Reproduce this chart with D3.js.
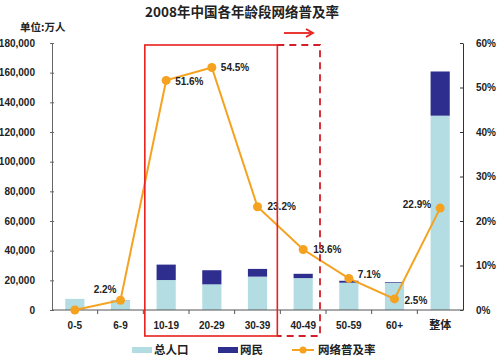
<!DOCTYPE html>
<html><head><meta charset="utf-8">
<script src="https://cdn.jsdelivr.net/npm/d3@7"></script>
<style>
body{margin:0;background:#fff;}
svg{display:block;}
text{font-family:"Liberation Sans",Arial,"Noto Sans CJK SC",sans-serif;font-weight:bold;fill:#222;}
.cjk{font-family:"Noto Sans CJK SC","Liberation Sans",sans-serif;font-weight:bold;}
</style></head>
<body><svg id="c" width="500" height="360"></svg>
<script>
const categories = ["0-5","6-9","10-19","20-29","30-39","40-49","50-59","60+","整体"];
const totalPopulation = [7500, 6300, 20200, 17300, 22500, 21500, 18400, 18300, 131000];
const netizens = [0, 140, 10400, 9500, 5200, 2900, 1300, 460, 29800];
const rates = [0, 2.2, 51.6, 54.5, 23.2, 13.6, 7.1, 2.5, 22.9];
const rateLabels = ["", "2.2%", "51.6%", "54.5%", "23.2%", "13.6%", "7.1%", "2.5%", "22.9%"];
const leftTicks = [0,20000,40000,60000,80000,100000,120000,140000,160000,180000];
const rightTicks = [0,10,20,30,40,50,60];
const legendLabels = ["总人口","网民","网络普及率"];
const title = "2008年中国各年龄段网络普及率";
const unitLabel = "单位:万人";

const C_LIGHT = "#b3dde3", C_DARK = "#2e2e8f", C_LINE = "#f4a21f";
const svg = d3.select("#c");
const L = 52, R = 463, T = 43, B = 310;

const x = d3.scaleBand().domain(categories).range([L, R]).paddingInner(0.58).paddingOuter(0.29);
const y = d3.scaleLinear().domain([0, 180000]).range([B, T]);
const y2 = d3.scaleLinear().domain([0, 60]).range([B, T]);
const cx = c => x(c) + x.bandwidth()/2;

// title
svg.append("text").attr("class","cjk").attr("x",242).attr("y",17).attr("text-anchor","middle")
  .attr("font-size",13.5).text(title);
svg.append("text").attr("class","cjk").attr("x",20).attr("y",31).attr("font-size",10.5).text(unitLabel);

// bars
const g = svg.append("g");
g.selectAll("rect.tot").data(categories).join("rect").attr("class","tot")
  .attr("x", c => x(c)).attr("width", x.bandwidth())
  .attr("y", (c,i) => y(totalPopulation[i])).attr("height", (c,i) => B - y(totalPopulation[i]))
  .attr("fill", C_LIGHT);
g.selectAll("rect.net").data(categories).join("rect").attr("class","net")
  .attr("x", c => x(c)).attr("width", x.bandwidth())
  .attr("y", (c,i) => y(totalPopulation[i] + netizens[i]))
  .attr("height", (c,i) => y(totalPopulation[i]) - y(totalPopulation[i] + netizens[i]))
  .attr("fill", C_DARK);

// left axis
const ax = svg.append("g").attr("transform",`translate(${L},0)`)
  .call(d3.axisLeft(y).tickValues(leftTicks).tickFormat(d3.format(",")).tickSizeInner(3).tickSizeOuter(0).tickPadding(14));
ax.select(".domain").attr("stroke","#666");
ax.selectAll(".tick line").attr("stroke","#666").attr("x2",2).attr("x1",-2);
ax.selectAll("text").attr("font-size",10).attr("fill","#222");

// right axis
const ax2 = svg.append("g").attr("transform",`translate(${R},0)`)
  .call(d3.axisRight(y2).tickValues(rightTicks).tickFormat(d => d + "%").tickSizeInner(3).tickSizeOuter(0).tickPadding(10));
ax2.select(".domain").attr("stroke","#333");
ax2.selectAll(".tick line").attr("stroke","#333").attr("x2",-3);
ax2.selectAll("text").attr("font-size",10).attr("fill","#222");

// bottom axis
const step = x.step();
svg.append("line").attr("x1",L).attr("x2",R).attr("y1",B).attr("y2",B).attr("stroke","#555");
svg.selectAll("line.xt").data(categories.slice(0,-1)).join("line").attr("class","xt")
  .attr("x1", c => cx(c) + step/2).attr("x2", c => cx(c) + step/2)
  .attr("y1", B).attr("y2", B+4).attr("stroke","#555");
svg.selectAll("text.xl").data(categories).join("text").attr("class", c => /[\u4e00-\u9fff]/.test(c) ? "xl cjk" : "xl")
  .attr("x", c => cx(c)).attr("y", 329).attr("text-anchor","middle")
  .attr("font-size", c => /[\u4e00-\u9fff]/.test(c) ? 11 : 10).text(c => c);

// line
const line = d3.line().x((d,i) => cx(categories[i])).y(d => y2(d));
svg.append("path").datum(rates).attr("d", line).attr("fill","none").attr("stroke",C_LINE).attr("stroke-width",2);
svg.selectAll("circle.pt").data(rates).join("circle").attr("class","pt")
  .attr("cx",(d,i) => cx(categories[i])).attr("cy", d => y2(d)).attr("r",4.5).attr("fill",C_LINE);

// rate labels
const offs = [[0,0,"start"],[-4,-7,"end"],[9,5,"start"],[9,4,"start"],[10,3,"start"],[10,4,"start"],[9,0,"start"],[10,5,"start"],[-9,0,"end"]];
svg.selectAll("text.rl").data(rates).join("text").attr("class","rl")
  .attr("x",(d,i) => cx(categories[i]) + offs[i][0]).attr("y",(d,i) => y2(d) + offs[i][1])
  .attr("text-anchor",(d,i) => offs[i][2]).attr("font-size",10).attr("fill","#222")
  .text((d,i) => rateLabels[i]);

// red boxes
const bx1 = x("10-19") - (step - x.bandwidth())/2 + 1.5;
const bx2 = cx("30-39") + step/2 - 3;
const bx3 = cx("40-49") + step/2 - 6;
svg.append("rect").attr("x",bx1).attr("y",45).attr("width",bx2-bx1).attr("height",291)
  .attr("fill","none").attr("stroke","#e8211d").attr("stroke-width",1.6);
svg.append("path").attr("d",`M${bx2},45H${bx3}V336H${bx2}`).attr("fill","none")
  .attr("stroke","#d41f2a").attr("stroke-width",1.8).attr("stroke-dasharray","7,5");
// arrow
svg.append("line").attr("x1",284).attr("x2",311).attr("y1",33).attr("y2",33).attr("stroke","#e8211d").attr("stroke-width",1.8);
svg.append("path").attr("d","M306,29L313,33L306,37").attr("fill","none").attr("stroke","#e8211d").attr("stroke-width",1.8);

// legend
const lg = svg.append("g");
lg.append("rect").attr("x",132).attr("y",347).attr("width",20).attr("height",6).attr("fill",C_LIGHT);
lg.append("text").attr("class","cjk").attr("x",154).attr("y",354).attr("font-size",11.5).text(legendLabels[0]);
lg.append("rect").attr("x",218).attr("y",347).attr("width",20).attr("height",6).attr("fill",C_DARK);
lg.append("text").attr("class","cjk").attr("x",240).attr("y",354).attr("font-size",11.5).text(legendLabels[1]);
lg.append("line").attr("x1",292).attr("x2",314).attr("y1",350).attr("y2",350).attr("stroke",C_LINE).attr("stroke-width",2);
lg.append("circle").attr("cx",303).attr("cy",350).attr("r",3.5).attr("fill",C_LINE);
lg.append("text").attr("class","cjk").attr("x",318).attr("y",354).attr("font-size",11.5).text(legendLabels[2]);
</script></body></html>
